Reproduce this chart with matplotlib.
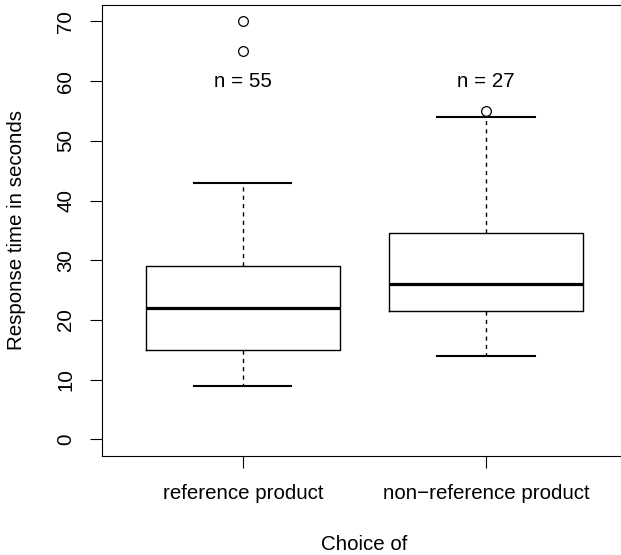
import matplotlib
matplotlib.use("Agg")
import matplotlib.pyplot as plt

# summary stats
groups = ["reference product", "non\u2212reference product"]
whisker_lo = [9, 14]
q1 = [15, 21.5]
medians = [22, 26]
q3 = [29, 34.5]
whisker_hi = [43, 54]
outliers = [[65, 70], [55]]
counts = [55, 27]

plt.rcParams['font.family'] = ['Liberation Sans', 'DejaVu Sans']
FS = 14.8

fig = plt.figure(figsize=(6.21, 5.55), dpi=100)
ax = fig.add_axes([0.1638, 0.1784, 0.846, 0.8131])

stats = []
for i in range(len(groups)):
    stats.append({
        "whislo": whisker_lo[i], "q1": q1[i], "med": medians[i],
        "q3": q3[i], "whishi": whisker_hi[i], "fliers": outliers[i],
    })

ax.bxp(stats, positions=[1, 2], widths=0.8, showcaps=True,
       boxprops=dict(color="black", linewidth=1.0),
       medianprops=dict(color="black", linewidth=2.3),
       whiskerprops=dict(color="black", linewidth=1.0, linestyle=(0, (3, 3))),
       capprops=dict(color="black", linewidth=1.5),
       capwidths=0.4,
       flierprops=dict(marker="o", markerfacecolor="white", markeredgecolor="black",
                       markersize=7, markeredgewidth=0.9))

for i, n in enumerate(counts):
    ax.text(i + 1, 60, f"n = {n}", ha="center", va="center", fontsize=FS)

ax.set_xlim(0.42, 2.58)
ax.set_ylim(-2.8, 72.8)
ax.set_yticks(range(0, 71, 10))
ax.set_xticks([1, 2])
ax.set_xticklabels(groups)
for lab in ax.get_yticklabels():
    lab.set_rotation(90)
    lab.set_va("center")
ax.tick_params(axis="both", length=8.5, width=0.8, labelsize=FS)
ax.tick_params(axis="x", pad=12)
ax.tick_params(axis="y", pad=10.5)
for s in ax.spines.values():
    s.set_linewidth(0.8)
# plot region runs past the right edge of the picture
ax.spines["right"].set_visible(False)

ax.set_xlabel("Choice of", fontsize=FS, labelpad=22.5)
ax.set_ylabel("Response time in seconds", fontsize=FS, labelpad=21.5)

fig.savefig("out.png", dpi=100)
